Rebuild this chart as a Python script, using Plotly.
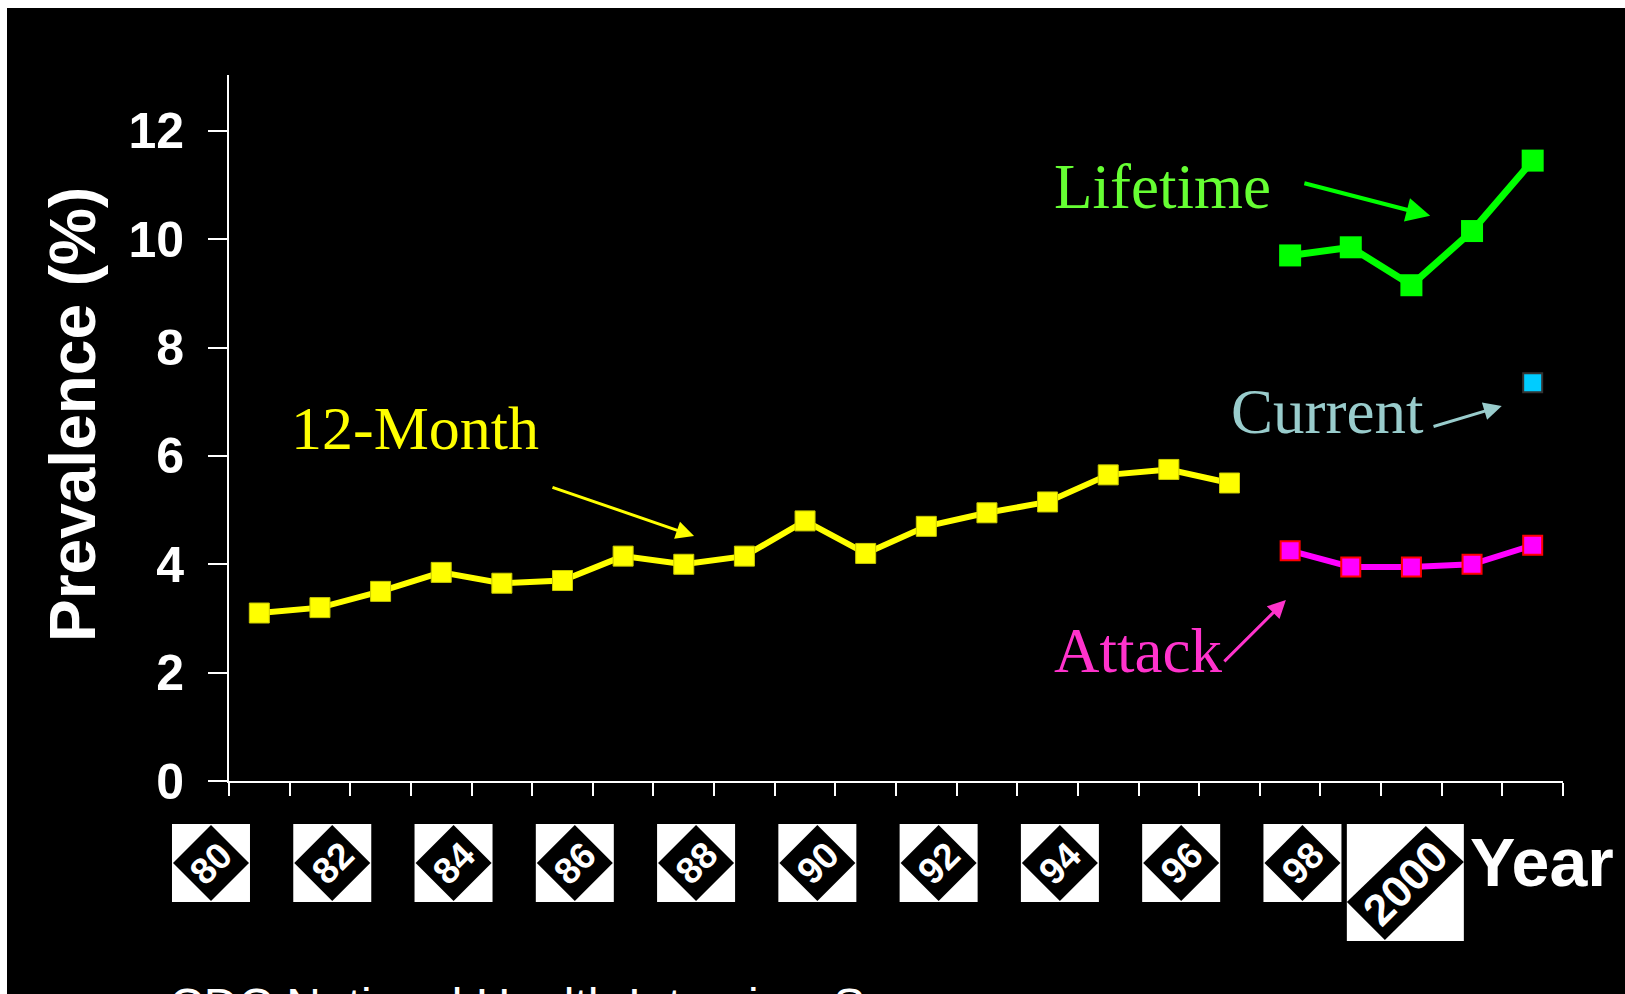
import plotly.graph_objects as go

# ---------------- data ----------------
years_12m = list(range(1980, 1997))
twelve_month = [3.1, 3.2, 3.5, 3.85, 3.65, 3.7, 4.15, 4.0, 4.15, 4.8, 4.2, 4.7, 4.95, 5.15, 5.65, 5.75, 5.5]
years_new = list(range(1997, 2002))
lifetime = [9.7, 9.85, 9.15, 10.15, 11.45]
attack = [4.25, 3.95, 3.95, 4.0, 4.35]
current_year = [2001]
current = [7.35]
label_years = [1980, 1982, 1984, 1986, 1988, 1990, 1992, 1994, 1996, 1998]
label_text = ["80", "82", "84", "86", "88", "90", "92", "94", "96", "98"]
label_2000 = "2000"
y_ticks = [0, 2, 4, 6, 8, 10, 12]

W, H = 1625, 994
L, R, T, B = 229, 62, 75, 213
plot_h = H - T - B
X0, X1 = 1979.5, 2001.5


def xpaper(xv):
    return (xv - X0) / (X1 - X0)


fig = go.Figure()

fig.add_trace(go.Scatter(x=years_12m, y=twelve_month, mode="lines+markers",
                         line=dict(color="#FFFF00", width=6),
                         marker=dict(symbol="square", size=20, color="#FFFF00",
                                     line=dict(color="#C8C800", width=1))))
fig.add_trace(go.Scatter(x=years_new, y=lifetime, mode="lines+markers",
                         line=dict(color="#00FF00", width=7),
                         marker=dict(symbol="square", size=22, color="#00FF00",
                                     line=dict(width=0))))
fig.add_trace(go.Scatter(x=years_new, y=attack, mode="lines+markers",
                         line=dict(color="#FF00FF", width=6),
                         marker=dict(symbol="square", size=19, color="#FF00FF",
                                     line=dict(color="#FF0000", width=2))))
fig.add_trace(go.Scatter(x=current_year, y=current, mode="markers",
                         marker=dict(symbol="square", size=19, color="#00CCFF",
                                     line=dict(color="#333333", width=2))))

shapes = []
annotations = []

# white border strips (top & left)
shapes.append(dict(type="rect", xref="paper", yref="paper", x0=-0.5, x1=1.5,
                   y0=(H - B - 8) / plot_h, y1=1.5, fillcolor="white", line=dict(width=0), layer="above"))
shapes.append(dict(type="rect", xref="paper", yref="paper", x0=-0.5, x1=(7 - L) / (W - L - R),
                   y0=-1, y1=2, fillcolor="white", line=dict(width=0), layer="above"))


# year label tiles
def tile(xc, half, corners, text, fsize, ycenter_px):
    xp = xpaper(xc)
    yc = -(ycenter_px - (H - B))
    shapes.append(dict(type="rect", xref="paper", yref="paper", xsizemode="pixel", ysizemode="pixel",
                       xanchor=xp, yanchor=0, x0=-half, x1=half, y0=yc - half, y1=yc + half,
                       fillcolor="white", line=dict(width=0), layer="above"))
    path = "M " + " L ".join(f"{cx},{yc + cy}" for cx, cy in corners) + " Z"
    shapes.append(dict(type="path", xref="paper", yref="paper", xsizemode="pixel", ysizemode="pixel",
                       xanchor=xp, yanchor=0, path=path, fillcolor="black",
                       line=dict(width=0), layer="above"))
    annotations.append(dict(x=xp, xref="paper", y=(H - B - ycenter_px) / plot_h, yref="paper",
                            text=f"<b>{text}</b>", showarrow=False, textangle=-45,
                            font=dict(family="Arial", size=fsize, color="white"),
                            xanchor="center", yanchor="middle"))


for yr, txt in zip(label_years, label_text):
    tile(yr - 0.797, 39, [(0, 38), (38, 0), (0, -38), (-38, 0)], txt, 37, 863)
tile(1998.90, 58.5, [(-58.5, -19.5), (-20.5, -57.5), (58.5, 20.5), (20.5, 56.5)],
     label_2000, 44, 882.5)

# series labels
serif = "Liberation Serif, Times New Roman, serif"
series_labels = [
    dict(x=1980.49, y=6.51, text="12-Month", font=dict(family=serif, size=62, color="#FFFF00")),
    dict(x=1993.07, y=10.96, text="Lifetime", font=dict(family=serif, size=63, color="#66FF33")),
    dict(x=1995.99, y=6.81, text="Current", font=dict(family=serif, size=63, color="#99CCCC")),
    dict(x=1993.07, y=2.40, text="Attack", font=dict(family=serif, size=63, color="#FF33CC")),
]
for a in series_labels:
    a.update(xref="x", yref="y", showarrow=False, xanchor="left", yanchor="middle")
annotations += series_labels

# arrows (head x,y ; tail ax,ay)
arrows = [
    ((1987.17, 4.52), (1984.81, 5.43), "#FFFF00", 3),
    ((1999.31, 10.43), (1997.21, 11.04), "#00FF00", 4),
    ((2000.49, 6.92), (1999.34, 6.535), "#99CCCC", 3),
    ((1996.93, 3.34), (1995.89, 2.18), "#FF33CC", 3),
]
for (hx, hy), (tx, ty), col, w in arrows:
    annotations.append(dict(x=hx, y=hy, ax=tx, ay=ty, xref="x", yref="y", axref="x", ayref="y",
                            text="", showarrow=True, arrowhead=2, arrowsize=1.2, arrowwidth=w,
                            arrowcolor=col, standoff=0, startstandoff=0))

# axis title and other texts
annotations.append(dict(x=(73 - L) / (W - L - R), y=(H - B - 415) / plot_h, xref="paper", yref="paper",
                        text="<b>Prevalence (%)</b>", textangle=-90, showarrow=False,
                        font=dict(family="Arial", size=64, color="white"),
                        xanchor="center", yanchor="middle"))
annotations.append(dict(x=(1468 - L) / (W - L - R), y=(H - B - 862) / plot_h, xref="paper", yref="paper",
                        text="<b>Year</b>", showarrow=False,
                        font=dict(family="Arial", size=68, color="white"),
                        xanchor="left", yanchor="middle"))
annotations.append(dict(x=(167 - L) / (W - L - R), y=(H - B - 977) / plot_h, xref="paper", yref="paper",
                        text="CDC National Health Interview Survey", showarrow=False,
                        font=dict(family="Arial", size=48, color="white"),
                        xanchor="left", yanchor="top"))

fig.update_layout(
    width=W, height=H,
    margin=dict(l=L, r=R, t=T, b=B, pad=0),
    paper_bgcolor="black", plot_bgcolor="black",
    showlegend=False,
    shapes=shapes, annotations=annotations,
    xaxis=dict(range=[X0, X1], showgrid=False, zeroline=False,
               showline=True, linecolor="white", linewidth=2,
               ticks="outside", ticklen=13, tickwidth=2, tickcolor="white",
               tickvals=[X0 + i for i in range(23)], showticklabels=False),
    yaxis=dict(range=[0, 13.03], showgrid=False, zeroline=False,
               showline=True, linecolor="white", linewidth=2,
               ticks="outside", ticklen=19, tickwidth=2, tickcolor="white",
               tickvals=y_ticks, ticktext=[f"<b>{v}</b>" for v in y_ticks],
               ticklabelstandoff=14,
               tickfont=dict(family="Arial", size=50, color="white")),
)

fig.write_html("out.html")
